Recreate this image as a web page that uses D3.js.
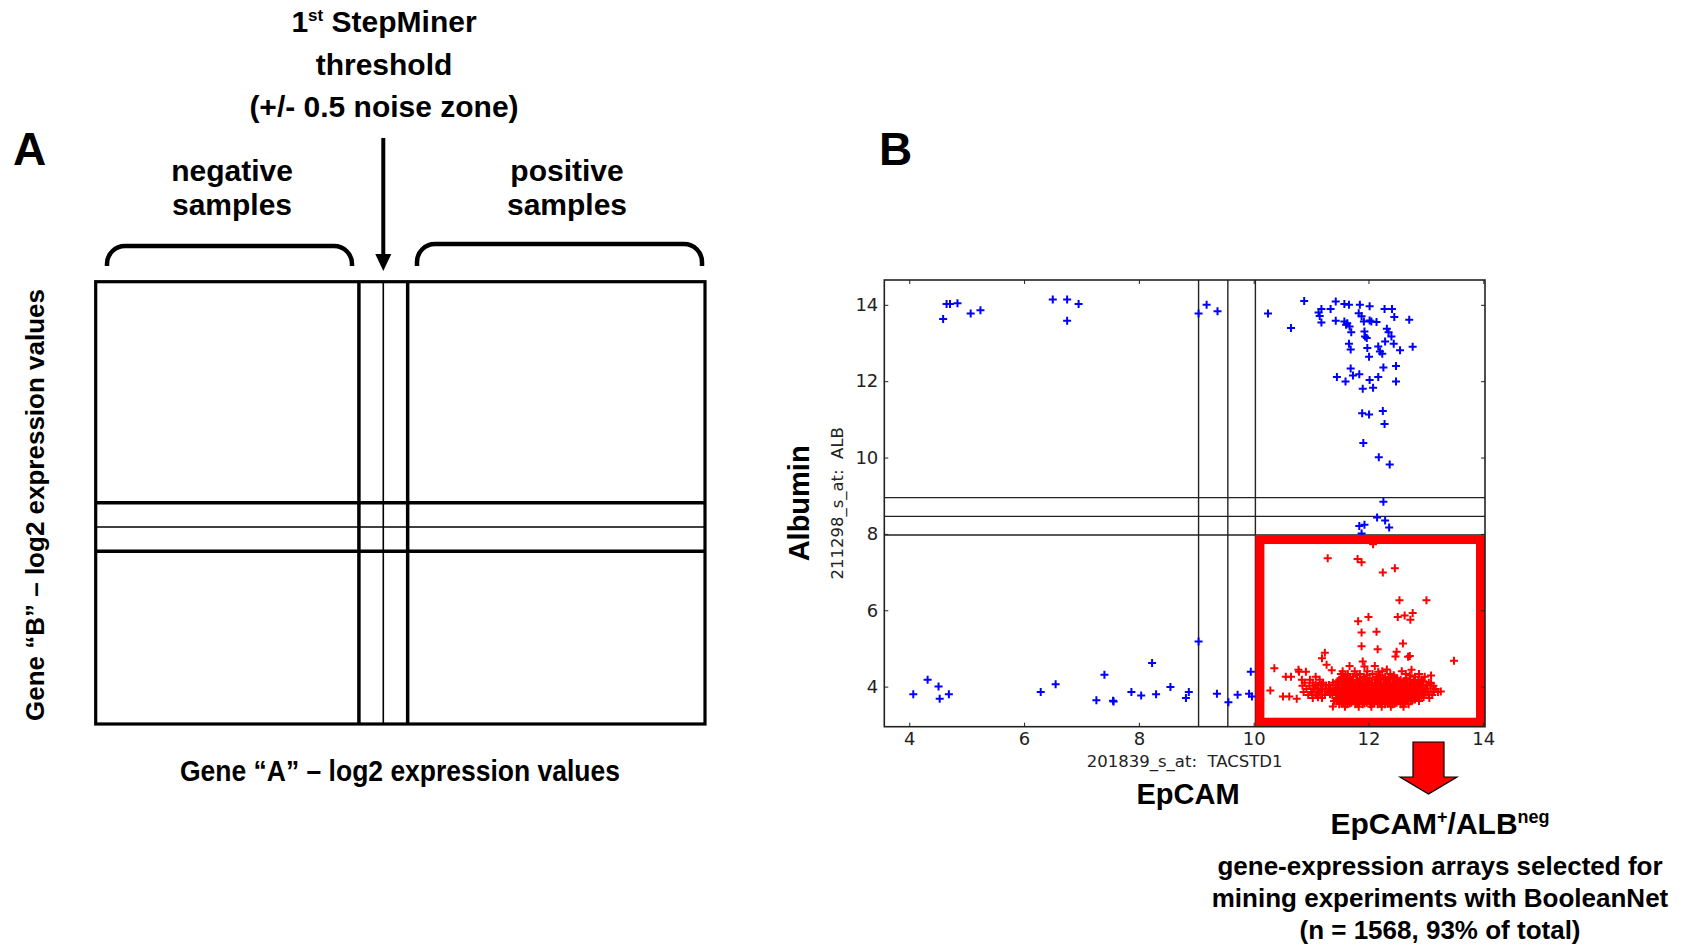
<!DOCTYPE html>
<html>
<head>
<meta charset="utf-8">
<script src="https://cdn.jsdelivr.net/npm/d3@7"></script>
<style>
  body { margin: 0; background: #fff; }
  text { white-space: pre; }
  .narrow { font-family: "Liberation Sans Narrow", "Arial Narrow", "Liberation Sans", sans-serif; font-weight: bold; }
  .arial { font-family: "Liberation Sans", Arial, sans-serif; font-weight: bold; }
  .mpl { font-family: "DejaVu Sans", sans-serif; fill: #222; }
</style>
</head>
<body>
<script>
/* ---------- DATA ---------- */
// panel A: schematic thresholds (first StepMiner threshold +/- 0.5)
const schemeXDomain = [0, 12.5];
const schemeYDomain = [0, 9.16];
const schemeXThresholds = [5.4, 5.9, 6.4];
const schemeYThresholds = [3.58, 4.08, 4.58];

// panel B: thresholds on EpCAM (x) and Albumin (y)
const epcamThresholds = [9.04, 9.55, 10.03];
const albThresholds = [7.97, 8.46, 8.95];
const xTicks = [4, 6, 8, 10, 12, 14];
const yTicks = [4, 6, 8, 10, 12, 14];

// arrays outside the EpCAM+/ALBneg box (blue)
const bluePoints = [
  [4.59,13.63],[4.65,14.02],[4.71,14.02],[4.84,14.04],[5.07,13.77],[5.24,13.86],
  [6.50,14.14],[6.75,14.14],[6.75,13.58],[6.95,14.02],
  [9.04,13.77],[9.18,14.0],[9.37,13.83],[10.25,13.77],[10.65,13.39],[10.88,14.10],
  [11.13,13.80],[11.15,13.71],[11.18,13.89],[11.18,13.54],[11.34,13.89],[11.43,14.09],
  [11.43,13.58],[11.58,14.02],[11.58,13.56],[11.61,13.48],[11.63,13.52],[11.66,14.0],
  [11.67,13.43],[11.70,13.28],[11.85,14.0],[11.83,13.78],[11.88,13.70],[11.92,13.56],
  [12.02,13.96],[12.02,13.59],[12.05,13.56],[12.14,13.55],[12.28,13.89],[12.41,13.89],
  [12.45,13.68],[12.71,13.61],[11.93,13.30],[11.94,13.17],[11.97,13.13],[12.32,13.37],
  [12.35,13.28],[12.40,13.17],[12.29,13.04],[12.44,12.98],[11.66,12.98],[11.69,12.83],
  [11.98,12.87],[12.17,12.91],[12.20,12.78],[12.24,12.72],[12.55,12.81],[12.77,12.90],
  [12.01,12.64],[11.69,12.33],[12.26,12.36],[12.48,12.40],[11.45,12.11],[11.60,11.99],
  [11.73,12.15],[11.84,12.18],[12.02,12.03],[12.17,12.11],[12.48,11.99],[11.90,11.80],
  [12.08,11.83],[11.89,11.16],[12.01,11.13],[12.25,11.22],[12.28,10.88],[11.91,10.38],
  [12.18,10.01],[12.37,9.82],[12.26,8.84],[12.15,8.43],[12.29,8.35],[11.84,8.21],
  [11.93,8.24],[12.36,8.17],[11.88,8.01],
  [4.07,3.80],[4.32,4.18],[4.51,4.00],[4.53,3.68],[4.69,3.80],[6.29,3.86],[6.55,4.06],
  [7.26,3.64],[7.40,4.31],[7.55,3.63],[7.56,3.61],[7.87,3.86],[8.04,3.77],[8.23,4.62],
  [8.30,3.80],[8.55,3.99],[8.82,3.70],[8.87,3.86],[9.04,5.18],[9.36,3.81],[9.56,3.59],
  [9.72,3.79],[9.92,3.81],[9.95,4.39],[9.97,3.74]
];

// EpCAM+/ALBneg arrays (red): scattered ones
const redPoints = [
  [12.08,7.73],[11.29,7.36],[11.81,7.34],[11.88,7.26],[12.25,6.99],[12.46,7.10],
  [12.54,6.26],[13.01,6.26],[12.51,5.82],[12.63,5.86],[12.77,5.93],[12.73,5.75],
  [11.82,5.71],[12.00,5.82],[11.88,5.42],[12.14,5.44],[11.88,5.06],[12.16,4.98],
  [12.60,5.13],[12.49,4.91],[12.69,4.78],[13.49,4.68],[10.36,4.48],[10.29,3.90],
  [10.56,4.26],[10.65,4.26],[10.51,3.74],[10.62,3.74],[10.75,3.68],[10.78,4.44],
  [11.24,4.89],[11.19,4.74],[13.09,4.29],[13.26,3.87],[11.38,3.48],
  [11.27,4.57],[11.36,4.43],[11.67,4.54],[11.90,4.66],[11.93,4.53],[12.11,4.54],
  [12.17,4.39],[12.32,4.45],[12.47,4.79],[12.72,4.80],[12.75,4.44],[13.09,4.09],
  [12.92,4.18],[10.79,4.39],[10.91,4.39],[10.84,4.18]
];

// EpCAM+/ALBneg arrays (red): dense cluster, read row by row [albumin, [epcam...]]
const redClusterRows = [
  [4.40, [11.55, 11.76, 11.98, 12.24, 12.58]],
  [4.33, [11.52, 11.64, 11.85, 12.07, 12.38, 12.65, 12.88]],
  [4.30, [11.60, 11.79, 11.97, 12.20, 12.44, 12.72]],
  [4.26, [11.08, 11.57, 11.73, 11.92, 12.14, 12.29, 12.45, 12.81, 12.98]],
  [4.22, [11.53, 11.68, 11.86, 12.02, 12.19, 12.35, 12.50, 12.66]],
  [4.18, [10.98, 11.15, 11.49, 11.62, 11.80, 11.95, 12.11, 12.26, 12.42, 12.56, 12.72, 12.87]],
  [4.14, [11.46, 11.58, 11.71, 11.86, 12.01, 12.16, 12.33, 12.48, 12.63, 12.79, 12.95]],
  [4.10, [10.89, 11.03, 11.21, 11.38, 11.53, 11.67, 11.84, 11.99, 12.13, 12.30, 12.44, 12.60, 12.75, 12.91, 13.05]],
  [4.06, [11.60, 11.77, 11.91, 12.06, 12.22, 12.37, 12.52, 12.68, 12.83]],
  [4.04, [11.08, 11.18, 11.31, 11.47, 11.64, 11.74, 11.87, 12.00, 12.16, 12.29, 12.45, 12.58, 12.73, 12.88, 13.02]],
  [4.02, [10.85, 10.97, 11.12, 11.26, 11.43, 11.56, 11.70, 11.81, 11.93, 12.06, 12.20, 12.34, 12.48, 12.63, 12.79, 12.94, 13.13]],
  [3.98, [11.49, 11.63, 11.76, 11.87, 11.99, 12.13, 12.27, 12.41, 12.56, 12.71, 12.87]],
  [3.96, [11.04, 11.17, 11.31, 11.45, 11.58, 11.70, 11.83, 11.96, 12.09, 12.22, 12.35, 12.50, 12.64, 12.79, 12.94, 13.08]],
  [3.94, [10.92, 11.05, 11.19, 11.34, 11.48, 11.60, 11.74, 11.87, 12.00, 12.12, 12.25, 12.39, 12.53, 12.67, 12.83, 12.99, 13.17]],
  [3.90, [11.41, 11.54, 11.67, 11.81, 11.94, 12.06, 12.19, 12.32, 12.46, 12.60, 12.75, 12.92]],
  [3.88, [11.11, 11.25, 11.38, 11.51, 11.62, 11.75, 11.88, 12.01, 12.14, 12.27, 12.40, 12.53, 12.68, 12.82, 12.97, 13.14]],
  [3.86, [10.87, 11.00, 11.14, 11.29, 11.41, 11.53, 11.65, 11.78, 11.91, 12.04, 12.17, 12.30, 12.43, 12.57, 12.72, 12.86, 13.03, 13.21]],
  [3.82, [11.47, 11.59, 11.71, 11.84, 11.97, 12.10, 12.23, 12.36, 12.50, 12.64, 12.79, 12.93]],
  [3.80, [11.02, 11.18, 11.33, 11.45, 11.57, 11.70, 11.83, 11.96, 12.08, 12.21, 12.34, 12.48, 12.62, 12.76, 12.90, 13.05]],
  [3.78, [10.95, 11.09, 11.24, 11.37, 11.50, 11.62, 11.75, 11.88, 12.01, 12.14, 12.27, 12.40, 12.54, 12.69, 12.82, 12.96, 13.11]],
  [3.74, [11.50, 11.63, 11.76, 11.89, 12.02, 12.15, 12.28, 12.42, 12.56, 12.70, 12.85]],
  [3.72, [11.12, 11.48, 11.61, 11.74, 11.87, 11.99, 12.12, 12.26, 12.39, 12.53, 12.67, 12.81, 12.96]],
  [3.70, [11.03, 11.19, 11.44, 11.56, 11.69, 11.82, 11.95, 12.08, 12.21, 12.35, 12.49, 12.63, 12.77, 12.92, 13.06]],
  [3.66, [11.47, 11.60, 11.73, 11.86, 11.99, 12.12, 12.25, 12.38, 12.52, 12.66, 12.81]],
  [3.64, [11.44, 11.57, 11.70, 11.83, 11.96, 12.09, 12.22, 12.35, 12.49, 12.63, 12.77]],
  [3.62, [11.40, 11.53, 11.66, 11.79, 11.92, 12.05, 12.18, 12.32, 12.45, 12.59, 12.74, 12.88]],
  [3.58, [11.56, 11.70, 11.84, 11.97, 12.10, 12.23, 12.36, 12.49, 12.63]],
  [3.56, [11.53, 11.67, 11.80, 11.93, 12.07, 12.20, 12.33, 12.46, 12.60]],
  [3.54, [11.49, 11.63, 11.77, 11.90, 12.03, 12.16, 12.29, 12.42, 12.56, 12.70]],
  [3.47, [11.59, 11.83, 12.05, 12.23, 12.39, 12.61]]
];

/* ---------- SVG ---------- */
const svg = d3.select("body").append("svg")
  .attr("width", 1688)
  .attr("height", 945);

/* ---------- PANEL A ---------- */
const xA = d3.scaleLinear(schemeXDomain, [95.7, 705]);
const yA = d3.scaleLinear(schemeYDomain, [724, 281.7]);

const gA = svg.append("g");

gA.append("text").attr("class", "arial")
  .attr("x", 13).attr("y", 165).attr("font-size", 46).text("A");

// title
const title = gA.append("g").attr("class", "narrow").attr("font-size", 30)
  .attr("text-anchor", "middle");
const t1 = title.append("text").attr("x", 384).attr("y", 32);
t1.append("tspan").text("1");
t1.append("tspan").attr("font-size", 17).attr("dy", -11).text("st");
t1.append("tspan").attr("dy", 11).text(" StepMiner");
title.append("text").attr("x", 384).attr("y", 75).text("threshold");
title.append("text").attr("x", 384).attr("y", 117).text("(+/- 0.5 noise zone)");

const groups = gA.append("g").attr("class", "narrow").attr("font-size", 30)
  .attr("text-anchor", "middle");
groups.append("text").attr("x", 232).attr("y", 181).text("negative");
groups.append("text").attr("x", 232).attr("y", 215).text("samples");
groups.append("text").attr("x", 567).attr("y", 181).text("positive");
groups.append("text").attr("x", 567).attr("y", 215).text("samples");

// brackets
function bracket(x0, x1, yTop, yEnd, r) {
  return `M${x0},${yEnd} L${x0},${yTop + r} A${r},${r} 0 0 1 ${x0 + r},${yTop}
          L${x1 - r},${yTop} A${r},${r} 0 0 1 ${x1},${yTop + r} L${x1},${yEnd}`;
}
gA.append("path").attr("d", bracket(107, 352, 246, 266, 18))
  .attr("fill", "none").attr("stroke", "#000").attr("stroke-width", 4.5);
gA.append("path").attr("d", bracket(417, 702, 244, 266, 18))
  .attr("fill", "none").attr("stroke", "#000").attr("stroke-width", 4.5);

// threshold arrow
const ax = xA(schemeXThresholds[1]);
gA.append("line").attr("x1", ax).attr("x2", ax).attr("y1", 138).attr("y2", 256)
  .attr("stroke", "#000").attr("stroke-width", 4);
gA.append("path").attr("d", `M${ax - 8},254 L${ax + 8},254 L${ax},271 Z`).attr("fill", "#000");

// box and thresholds
gA.selectAll("line.vx").data(schemeXThresholds).join("line")
  .attr("class", "vx")
  .attr("x1", d => xA(d)).attr("x2", d => xA(d))
  .attr("y1", yA.range()[0]).attr("y2", yA.range()[1])
  .attr("stroke", "#000").attr("stroke-width", (d, i) => i === 1 ? 1.6 : 3.5);
gA.selectAll("line.hy").data(schemeYThresholds).join("line")
  .attr("class", "hy")
  .attr("x1", xA.range()[0]).attr("x2", xA.range()[1])
  .attr("y1", d => yA(d)).attr("y2", d => yA(d))
  .attr("stroke", "#000").attr("stroke-width", (d, i) => i === 1 ? 1.6 : 3.5);
gA.append("rect")
  .attr("x", xA.range()[0]).attr("y", yA.range()[1])
  .attr("width", xA.range()[1] - xA.range()[0]).attr("height", yA.range()[0] - yA.range()[1])
  .attr("fill", "none").attr("stroke", "#000").attr("stroke-width", 3.2);

gA.append("text").attr("class", "narrow").attr("font-size", 29)
  .attr("text-anchor", "middle").attr("x", 400).attr("y", 781)
  .attr("textLength", 440).attr("lengthAdjust", "spacingAndGlyphs")
  .text("Gene \u201cA\u201d \u2013 log2 expression values");
gA.append("text").attr("class", "arial").attr("font-size", 26)
  .attr("text-anchor", "middle")
  .attr("transform", "translate(44,505) rotate(-90)")
  .text("Gene \u201cB\u201d \u2013 log2 expression values");

/* ---------- PANEL B ---------- */
const pLeft = 884.3, pRight = 1485, pTop = 280, pBottom = 726.7;
const x = d3.scaleLinear([3.565, 14.03], [pLeft, pRight]);
const y = d3.scaleLinear([2.95, 14.65], [pBottom, pTop]);

const gB = svg.append("g");

gB.append("text").attr("class", "arial")
  .attr("x", 879).attr("y", 165).attr("font-size", 46).text("B");

// threshold lines
gB.selectAll("line.tx").data(epcamThresholds).join("line")
  .attr("class", "tx")
  .attr("x1", d => x(d)).attr("x2", d => x(d)).attr("y1", pTop).attr("y2", pBottom)
  .attr("stroke", "#222").attr("stroke-width", 1.4);
gB.selectAll("line.ty").data(albThresholds).join("line")
  .attr("class", "ty")
  .attr("x1", pLeft).attr("x2", pRight).attr("y1", d => y(d)).attr("y2", d => y(d))
  .attr("stroke", "#222").attr("stroke-width", 1.4);

// points
const plus = "M-4,0H4M0,-4V4";
const clusterPoints = redClusterRows.flatMap(([yy, xs]) => xs.map(xx => [xx, yy]));

gB.selectAll("path.blue").data(bluePoints).join("path")
  .attr("class", "blue")
  .attr("d", plus)
  .attr("transform", d => `translate(${x(d[0])},${y(d[1])})`)
  .attr("stroke", "#0000ff").attr("stroke-width", 2);

gB.selectAll("path.red").data(redPoints.concat(clusterPoints)).join("path")
  .attr("class", "red")
  .attr("d", plus)
  .attr("transform", d => `translate(${x(d[0])},${y(d[1])})`)
  .attr("stroke", "#ff0000").attr("stroke-width", 2);

// selection box: EpCAM > upper threshold, ALB < lower threshold
const sw = 9;
gB.append("rect")
  .attr("x", x(epcamThresholds[2]) + sw / 2)
  .attr("y", y(albThresholds[0]) + sw / 2)
  .attr("width", pRight - x(epcamThresholds[2]) - sw)
  .attr("height", pBottom - y(albThresholds[0]) - sw)
  .attr("fill", "none").attr("stroke", "#ff0000").attr("stroke-width", sw);

// axes (inward ticks on all sides)
gB.append("g").attr("transform", `translate(0,${pBottom})`)
  .call(d3.axisBottom(x).tickValues(xTicks).tickSizeInner(-4).tickSizeOuter(0).tickPadding(6));
gB.append("g").attr("transform", `translate(${pLeft},0)`)
  .call(d3.axisLeft(y).tickValues(yTicks).tickSizeInner(-4).tickSizeOuter(0).tickPadding(6));
gB.append("g").attr("transform", `translate(0,${pTop})`)
  .call(d3.axisTop(x).tickValues(xTicks).tickSizeInner(-4).tickSizeOuter(0).tickFormat(""));
gB.append("g").attr("transform", `translate(${pRight},0)`)
  .call(d3.axisRight(y).tickValues(yTicks).tickSizeInner(-4).tickSizeOuter(0).tickFormat(""));

gB.selectAll(".domain").remove();
gB.selectAll(".tick line").attr("stroke", "#222").attr("stroke-width", 1);
gB.selectAll(".tick text").attr("class", "mpl").attr("font-size", 18)
  .attr("font-family", null).attr("fill", "#222");

gB.append("rect").attr("x", pLeft).attr("y", pTop)
  .attr("width", pRight - pLeft).attr("height", pBottom - pTop)
  .attr("fill", "none").attr("stroke", "#222").attr("stroke-width", 1.6);

// axis labels
gB.append("text").attr("class", "mpl").attr("font-size", 16.5)
  .attr("text-anchor", "middle").attr("x", (pLeft + pRight) / 2).attr("y", 767)
  .text("201839_s_at:  TACSTD1");
gB.append("text").attr("class", "mpl").attr("font-size", 16.5)
  .attr("text-anchor", "middle")
  .attr("transform", `translate(843,${(pTop + pBottom) / 2}) rotate(-90)`)
  .text("211298_s_at:  ALB");
gB.append("text").attr("class", "arial").attr("font-size", 29)
  .attr("text-anchor", "middle").attr("x", 1188).attr("y", 804).text("EpCAM");
gB.append("text").attr("class", "arial").attr("font-size", 29)
  .attr("text-anchor", "middle")
  .attr("transform", `translate(809,${(pTop + pBottom) / 2}) rotate(-90)`)
  .text("Albumin");

// red arrow
gB.append("path")
  .attr("d", "M1413,742 L1444,742 L1444,777 L1457,777 L1428.5,794 L1400,777 L1413,777 Z")
  .attr("fill", "#ff0000").attr("stroke", "#000").attr("stroke-width", 1.2);

// selection caption
const cap = gB.append("g").attr("class", "arial").attr("text-anchor", "middle");
const c1 = cap.append("text").attr("x", 1440).attr("y", 834).attr("font-size", 30);
c1.append("tspan").text("EpCAM");
c1.append("tspan").attr("font-size", 18).attr("dy", -11).text("+");
c1.append("tspan").attr("dy", 11).text("/ALB");
c1.append("tspan").attr("font-size", 18).attr("dy", -11).text("neg");
cap.append("text").attr("x", 1440).attr("y", 875).attr("font-size", 26)
  .text("gene-expression arrays selected for");
cap.append("text").attr("x", 1440).attr("y", 907).attr("font-size", 26)
  .text("mining experiments with BooleanNet");
cap.append("text").attr("x", 1440).attr("y", 939).attr("font-size", 26)
  .text("(n = 1568, 93% of total)");
</script>
</body>
</html>
